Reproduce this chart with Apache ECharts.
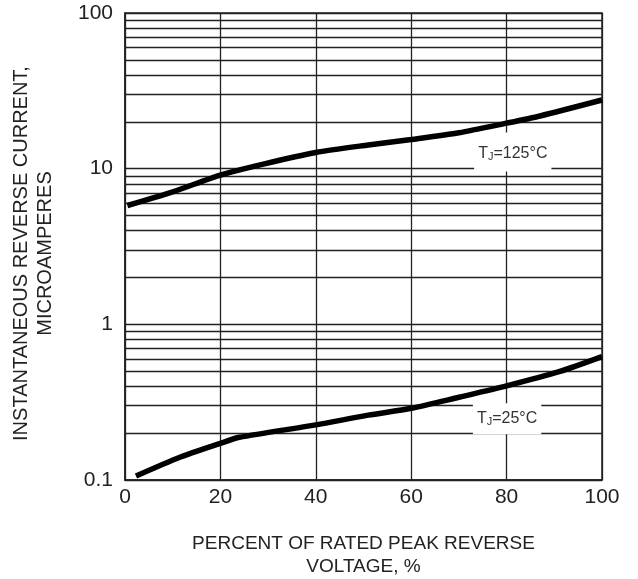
<!DOCTYPE html>
<html>
<head>
<meta charset="utf-8">
<script src="https://cdn.jsdelivr.net/npm/echarts@6/dist/echarts.min.js"></script>
<style>html,body{margin:0;padding:0;background:#fff}#c{width:638px;height:579px}</style>
</head>
<body>
<div id="c"></div>
<script>
// Data
var x125 = [0.5, 10, 20, 29, 40, 51, 60, 70, 80, 87, 100];
var y125 = [5.8, 7.1, 9.1, 10.7, 12.7, 14.2, 15.4, 17.0, 19.6, 21.8, 27.6];
var x25 = [2.3, 11.5, 20, 24, 40, 51, 60, 70, 80, 91, 100];
var y25 = [0.106, 0.140, 0.172, 0.188, 0.226, 0.261, 0.289, 0.34, 0.402, 0.496, 0.62];
var xTicks = [0, 20, 40, 60, 80, 100];
var yTicks = [0.1, 1, 10, 100];
var label125 = {x: 81.3, y: 12.8, tj: '125°C'};
var label25 = {x: 80.1, y: 0.247, tj: '25°C'};

var FONT = '"Liberation Sans", Arial, sans-serif';
var INK = '#222';

function pairs(xs, ys) { return xs.map(function (v, i) { return [v, ys[i]]; }); }

// minor log grid lines 2..9 in each decade
var minor = [];
for (var d = 0; d < yTicks.length - 1; d++) {
  for (var m = 2; m <= 9; m++) minor.push({yAxis: +(yTicks[d] * m).toPrecision(3)});
}

function tjLabel(l, pad) {
  return {
    coord: [l.x, l.y], symbol: 'rect', symbolSize: 0,
    label: {
      show: true, position: 'inside',
      formatter: 'T{s|J}=' + l.tj,
      color: '#333', fontFamily: FONT, fontSize: 16,
      backgroundColor: '#fff', padding: pad,
      rich: {s: {fontSize: 11, fontFamily: FONT, color: '#333', verticalAlign: 'bottom', padding: [6, 0, 0, 0]}}
    }
  };
}

var chart = echarts.init(document.getElementById('c'), null, {renderer: 'canvas'});
chart.setOption({
  animation: false,
  backgroundColor: '#fff',
  grid: {left: 125, right: 36, top: 13, bottom: 99, outerBoundsMode: 'none', containLabel: false,
    show: true, borderColor: INK, borderWidth: 1.5, backgroundColor: 'transparent'},
  xAxis: {
    type: 'value', min: xTicks[0], max: xTicks[xTicks.length - 1], interval: 20,
    axisLine: {show: true, lineStyle: {color: INK, width: 1.5}},
    axisTick: {show: false},
    axisLabel: {color: '#222', fontFamily: FONT, fontSize: 21, margin: 7},
    splitLine: {show: true, lineStyle: {color: INK, width: 1.3}},
    name: 'PERCENT OF RATED PEAK REVERSE\nVOLTAGE, %',
    nameLocation: 'middle', nameGap: 52,
    nameTextStyle: {color: '#222', fontFamily: FONT, fontSize: 19, lineHeight: 23}
  },
  yAxis: {
    type: 'log', logBase: 10, min: yTicks[0], max: yTicks[yTicks.length - 1],
    axisLine: {show: true, lineStyle: {color: INK, width: 1.5}},
    axisTick: {show: false},
    axisLabel: {color: '#222', fontFamily: FONT, fontSize: 21, margin: 12,
      formatter: function (v) { return String(+v.toPrecision(3)); }},
    splitLine: {show: true, lineStyle: {color: INK, width: 1.3}},
    minorTick: {show: false}, minorSplitLine: {show: false},
    name: 'INSTANTANEOUS REVERSE CURRENT,\nMICROAMPERES',
    nameLocation: 'middle', nameGap: 68, nameRotate: 90,
    nameTextStyle: {color: '#222', fontFamily: FONT, fontSize: 20, lineHeight: 23.5, padding: [0, 14, 0, 0]}
  },
  series: [
    {
      type: 'line', data: [], z: 1, silent: true,
      markLine: {silent: true, symbol: 'none', label: {show: false},
        lineStyle: {color: INK, width: 1.3, type: 'solid'}, data: minor, animation: false}
    },
    {
      type: 'line', data: pairs(x125, y125), smooth: 0.25, showSymbol: false, z: 5,
      lineStyle: {color: '#000', width: 5.5}, itemStyle: {color: '#000'},
      markPoint: {z: 6, data: [tjLabel(label125, [13, 4, 9, 4])]}
    },
    {
      type: 'line', data: pairs(x25, y25), smooth: 0.25, showSymbol: false, z: 5,
      lineStyle: {color: '#000', width: 5.5}, itemStyle: {color: '#000'},
      markPoint: {z: 6, data: [tjLabel(label25, [7, 4, 7, 4])]}
    }
  ]
});
</script>
</body>
</html>
